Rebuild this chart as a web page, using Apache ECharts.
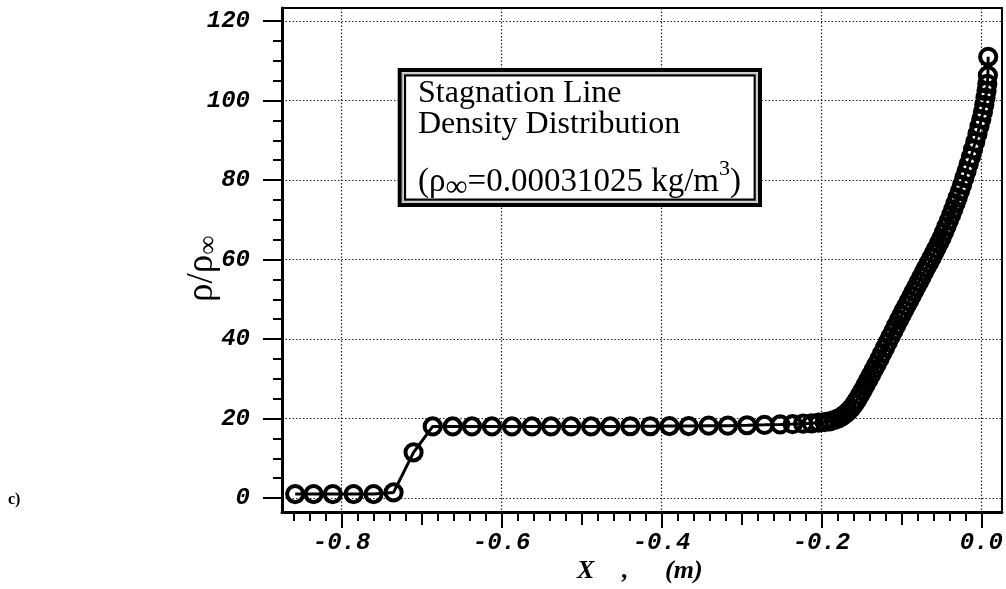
<!DOCTYPE html>
<html>
<head>
<meta charset="utf-8">
<script src="https://cdn.jsdelivr.net/npm/echarts@6/dist/echarts.min.js"></script>
<style>
  html, body { margin: 0; padding: 0; background: #fff; }
  #chart { width: 1006px; height: 589px; }
</style>
</head>
<body>
<div id="chart"></div>
<script>
// Stagnation line: position along the line (m) and density ratio rho/rho_inf
const xPos = [
  -0.858, -0.835, -0.811, -0.785, -0.760, -0.735, -0.710, -0.686, -0.661, -0.637,
  -0.612, -0.587, -0.562, -0.538, -0.513, -0.488, -0.464, -0.439, -0.414, -0.390,
  -0.366, -0.341, -0.317, -0.293, -0.2712, -0.2516, -0.2360, -0.2228, -0.2122, -0.2035,
  -0.1960, -0.1898, -0.1841, -0.1792, -0.1747, -0.1704, -0.1664, -0.1627, -0.1589, -0.1554,
  -0.1519, -0.1484, -0.1449, -0.1414, -0.1380, -0.1345, -0.1310, -0.1275, -0.1240, -0.1205,
  -0.1170, -0.1135, -0.1100, -0.1065, -0.1030, -0.0999, -0.0968, -0.0936, -0.0905, -0.0874,
  -0.0843, -0.0811, -0.0780, -0.0749, -0.0718, -0.0687, -0.0655, -0.0624, -0.0593, -0.0562,
  -0.0531, -0.0499, -0.0468, -0.0437, -0.0406, -0.0378, -0.0351, -0.0323, -0.0296, -0.0268,
  -0.0241, -0.0213, -0.0186, -0.0159, -0.0131, -0.0104, -0.0076, -0.0049, -0.0024, -0.0001,
  0.0019, 0.0036, 0.0051, 0.0064, 0.0074, 0.0081, 0.0085
];
const rhoRatio = [
  1.0, 1.0, 1.0, 1.0, 1.0, 1.4, 11.5, 18.0, 18.0, 18.0,
  18.0, 18.0, 18.0, 18.0, 18.0, 18.0, 18.0, 18.05, 18.05, 18.1,
  18.1, 18.2, 18.2, 18.3, 18.4, 18.5, 18.6, 18.7, 18.8, 18.95,
  19.1, 19.3, 19.6, 20.0, 20.5, 21.1, 21.8, 22.6, 23.6, 24.7,
  25.9, 27.1, 28.4, 29.7, 31.0, 32.3, 33.6, 35.0, 36.4, 37.8,
  39.2, 40.6, 42.0, 43.4, 44.8, 46.0, 47.2, 48.4, 49.6, 50.8,
  52.0, 53.2, 54.4, 55.6, 56.8, 58.0, 59.2, 60.4, 61.6, 62.8,
  64.1, 65.4, 66.8, 68.3, 69.8, 71.2, 72.6, 74.1, 75.6, 77.2,
  78.8, 80.5, 82.2, 84.0, 85.8, 87.7, 89.6, 91.6, 93.5, 95.3,
  97.1, 98.9, 100.7, 102.4, 104.2, 106.3, 111.0
];

// Axis ticks
const xTicks = [-0.8, -0.6, -0.4, -0.2, 0];
const xMidTicks = [-0.7, -0.5, -0.3, -0.1];
const xMinorTicks = [
  -0.86, -0.84, -0.82, -0.78, -0.76, -0.74, -0.72, -0.68, -0.66, -0.64, -0.62,
  -0.58, -0.56, -0.54, -0.52, -0.48, -0.46, -0.44, -0.42, -0.38, -0.36, -0.34, -0.32,
  -0.28, -0.26, -0.24, -0.22, -0.18, -0.16, -0.14, -0.12, -0.08, -0.06, -0.04, -0.02
];
const yTicks = [0, 20, 40, 60, 80, 100, 120];
const yMinorTicks = [5, 10, 15, 25, 30, 35, 45, 50, 55, 65, 70, 75, 85, 90, 95, 105, 110, 115];

const xRange = [-0.8745, 0.0256];
const yRange = [-3.52, 123.27];

const tickFont = {
  fontFamily: 'Liberation Mono', fontWeight: 'bold', fontStyle: 'italic',
  fontSize: 24, color: '#000'
};
const gridDots = { color: '#222', width: 1.2, type: [1.5, 2] };

// Text run layout helper (measures each piece so mixed sizes sit side by side)
const measureCtx = document.createElement('canvas').getContext('2d');
function textWidth(r) {
  measureCtx.font = `${r.style || 'normal'} ${r.weight || 'normal'} ${r.size}px "${r.family}"`;
  return measureCtx.measureText(r.text).width;
}
function layoutRuns(x0, y0, runs, z) {
  let x = x0;
  const out = [];
  runs.forEach(r => {
    out.push({
      type: 'text', x: x + (r.dx || 0), y: y0 + (r.dy || 0), z: z || 20,
      style: {
        text: r.text, fontSize: r.size, fontFamily: r.family,
        fontWeight: r.weight || 'normal', fontStyle: r.style || 'normal',
        fill: '#000', align: 'left', verticalAlign: 'middle'
      }
    });
    x += textWidth(r) + (r.dx || 0);
  });
  return out;
}

const serif = 'Liberation Serif';

// Title box text
const boxText = [].concat(
  layoutRuns(418, 94, [{ text: 'Stagnation Line', size: 32, family: serif }]),
  layoutRuns(418, 125, [{ text: 'Density Distribution', size: 32, family: serif }]),
  layoutRuns(418, 182, [
    { text: '(', size: 33, family: serif },
    { text: 'ρ', size: 33, family: serif },
    { text: '∞', size: 31, family: serif, dy: 6 },
    { text: '=0.00031025 kg/m', size: 33, family: serif },
    { text: '3', size: 22, family: serif, dy: -13 },
    { text: ')', size: 33, family: serif }
  ])
);

// Rotated y-axis title
const yTitle = {
  type: 'group', x: 202, y: 302, rotation: Math.PI / 2, z: 20,
  children: layoutRuns(0, 0, [
    { text: 'ρ/ρ', size: 37, family: serif },
    { text: '∞', size: 27, family: serif, dy: 7 }
  ])
};

// x-axis title
const xTitle = [
  { type: 'text', x: 577, y: 571, z: 20, style: { text: 'X', fontSize: 26, fontFamily: serif, fontWeight: 'bold', fontStyle: 'italic', fill: '#000', verticalAlign: 'middle' } },
  { type: 'text', x: 622, y: 571, z: 20, style: { text: ',', fontSize: 26, fontFamily: serif, fontWeight: 'bold', fontStyle: 'italic', fill: '#000', verticalAlign: 'middle' } },
  { type: 'text', x: 665, y: 571, z: 20, style: { text: '(m)', fontSize: 26, fontFamily: serif, fontWeight: 'bold', fontStyle: 'italic', fill: '#000', verticalAlign: 'middle' } }
];

const panelTag = { type: 'text', x: 8, y: 500, z: 20, style: { text: 'c)', fontSize: 16, fontFamily: serif, fontWeight: 'bold', fill: '#000', verticalAlign: 'middle' } };

// Double-ruled frame of the title box
const boxFrame = [
  { type: 'rect', z: 15, shape: { x: 399.7, y: 70, width: 360.3, height: 135 }, style: { fill: '#fff', stroke: '#000', lineWidth: 4 } },
  { type: 'rect', z: 16, shape: { x: 402.7, y: 73, width: 354.3, height: 129 }, style: { fill: 'none', stroke: '#9a9a9a', lineWidth: 1 } },
  { type: 'rect', z: 16, shape: { x: 405, y: 75.3, width: 349.7, height: 124.4 }, style: { fill: 'none', stroke: '#000', lineWidth: 2.2 } }
];

function plainAxis(extra) {
  return Object.assign({
    type: 'value', gridIndex: 0, scale: true,
    axisLine: { show: false, onZero: false }, axisLabel: { show: false },
    splitLine: { show: false }, axisTick: { show: false }
  }, extra);
}

const chart = echarts.init(document.getElementById('chart'), null, { renderer: 'canvas' });
chart.setOption({
  animation: false,
  backgroundColor: '#fff',
  grid: { left: 282, right: 3, top: 8, bottom: 77, containLabel: false },
  xAxis: [
    plainAxis({
      min: xRange[0], max: xRange[1], position: 'bottom',
      axisLine: { show: true, onZero: false, lineStyle: { color: '#000', width: 3 } },
      axisTick: { show: true, customValues: xTicks, length: 16, inside: false, lineStyle: { color: '#000', width: 2 } },
      axisLabel: Object.assign({ show: true, customValues: xTicks, margin: 19, formatter: v => v.toFixed(1) }, tickFont),
      splitLine: { show: true, lineStyle: gridDots }
    }),
    plainAxis({
      min: xRange[0], max: xRange[1], position: 'bottom', offset: 0,
      axisTick: { show: true, customValues: xMidTicks, length: 13, lineStyle: { color: '#000', width: 2 } }
    }),
    plainAxis({
      min: xRange[0], max: xRange[1], position: 'bottom', offset: 0,
      axisTick: { show: true, customValues: xMinorTicks, length: 9, lineStyle: { color: '#000', width: 2 } }
    }),
    plainAxis({
      min: xRange[0], max: xRange[1], position: 'top', offset: 0,
      axisLine: { show: true, onZero: false, lineStyle: { color: '#000', width: 2 } }
    })
  ],
  yAxis: [
    plainAxis({
      min: yRange[0], max: yRange[1], position: 'left',
      axisLine: { show: true, onZero: false, lineStyle: { color: '#000', width: 3 } },
      axisTick: { show: true, customValues: yTicks, length: 19, inside: false, lineStyle: { color: '#000', width: 2 } },
      axisLabel: Object.assign({ show: true, customValues: yTicks, margin: 32, formatter: v => String(v) }, tickFont),
      splitLine: { show: true, lineStyle: gridDots }
    }),
    plainAxis({
      min: yRange[0], max: yRange[1], position: 'left', offset: 0,
      axisTick: { show: true, customValues: yMinorTicks, length: 9, lineStyle: { color: '#000', width: 2 } }
    }),
    plainAxis({
      min: yRange[0], max: yRange[1], position: 'right', offset: 0,
      axisLine: { show: true, onZero: false, lineStyle: { color: '#000', width: 2 } }
    })
  ],
  series: [{
    type: 'line',
    xAxisIndex: 0, yAxisIndex: 0,
    data: xPos.map((x, i) => [x, rhoRatio[i]]),
    symbol: 'circle',
    symbolSize: 16.2,
    showAllSymbol: true,
    itemStyle: { color: 'rgba(0,0,0,0)', borderColor: '#000', borderWidth: 4 },
    lineStyle: { color: '#000', width: 3 },
    emphasis: { disabled: true },
    z: 5
  }],
  graphic: [].concat(boxFrame, boxText, [yTitle], xTitle, [panelTag])
});
</script>
</body>
</html>
